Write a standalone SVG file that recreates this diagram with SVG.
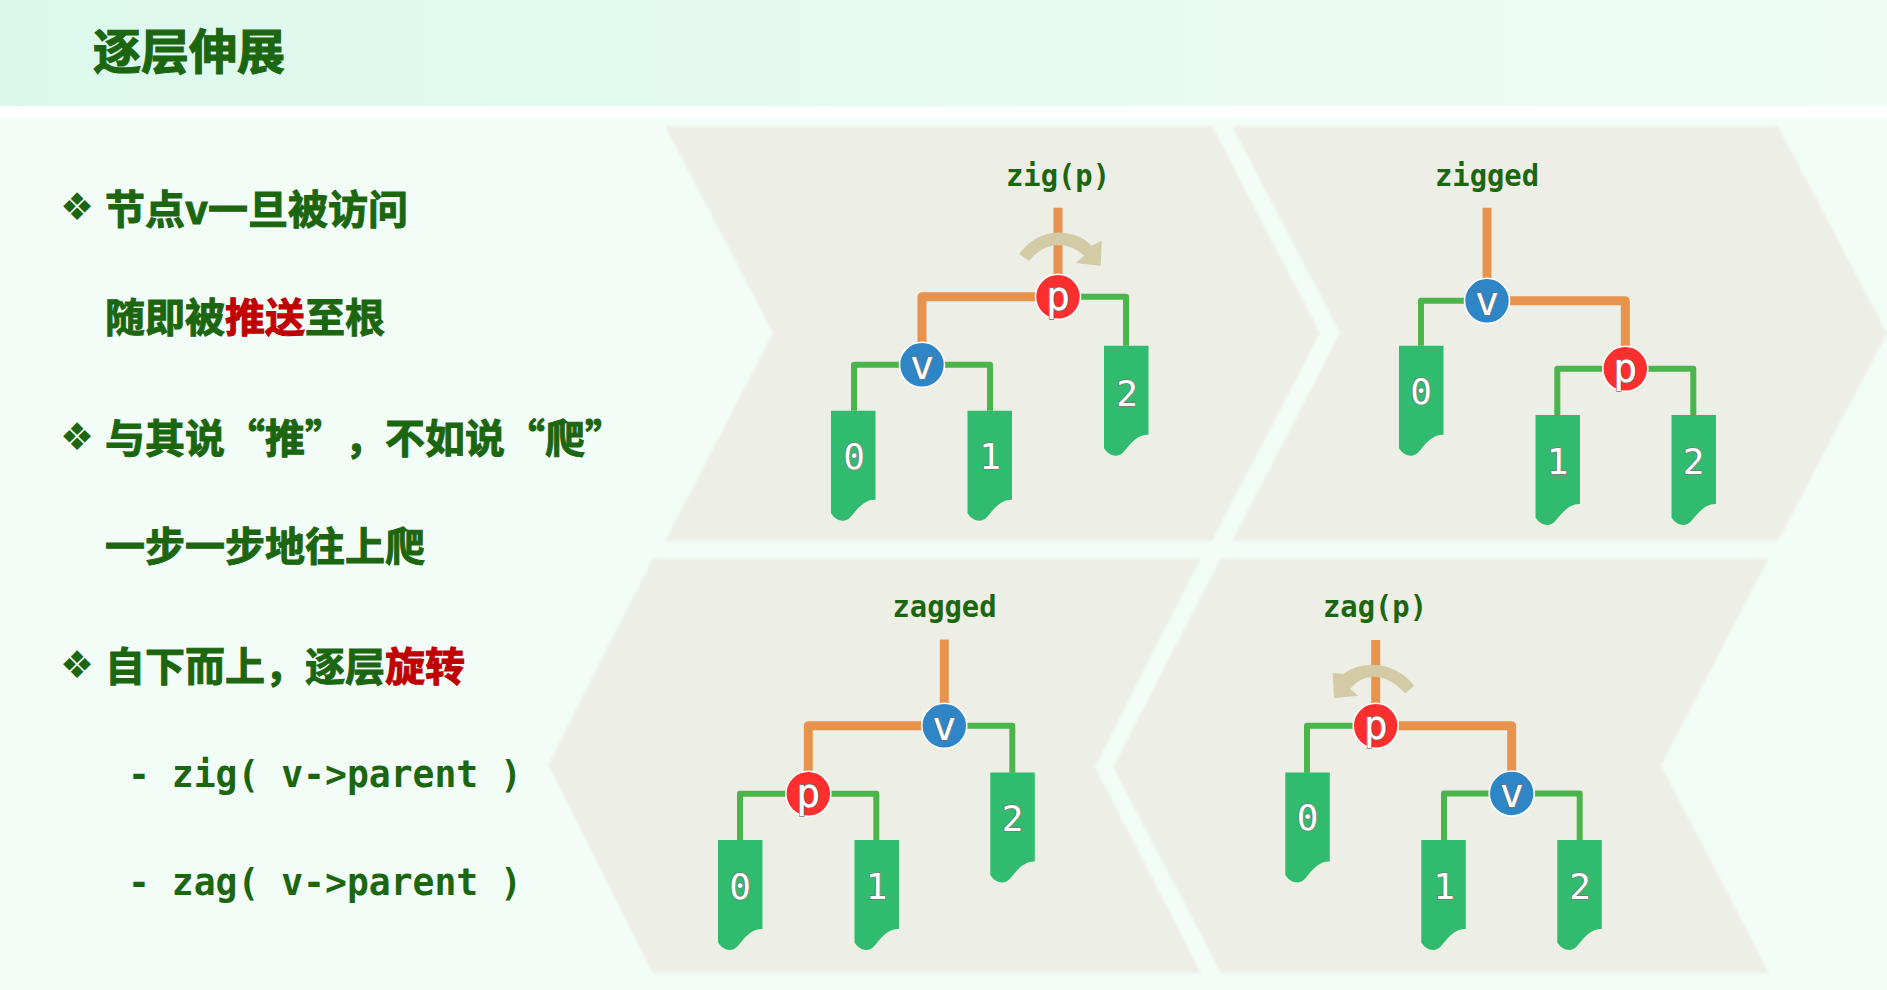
<svg xmlns="http://www.w3.org/2000/svg" width="1887" height="990" viewBox="0 0 1887 990">
<style>
.cjk{font-family:"Noto Sans CJK SC","Liberation Sans",sans-serif;font-weight:700;font-size:40px;fill:#1b660f;stroke:#1b660f;stroke-width:1px}
.ttl{font-size:48px;stroke-width:1.2px}
.red{fill:#c00000;stroke:#c00000}
.bul{font-family:"DejaVu Sans",sans-serif;font-size:38px;fill:#1b660f}
.code{font-family:"DejaVu Sans Mono",monospace;font-weight:700;font-size:38px;fill:#1b660f}
.lab{font-family:"DejaVu Sans Mono",monospace;font-weight:700;font-size:31px;fill:#1b660f;text-anchor:middle}
.or{fill:none;stroke:#e7934e;stroke-width:9;stroke-linejoin:round}
.gr{fill:none;stroke:#4ab548;stroke-width:6;stroke-linejoin:round}
.tan{fill:#d2cba6;stroke:none}
.leaf{fill:#30bb6e}
.c-v{fill:#2e86c6;stroke:#fff;stroke-width:1.6}
.c-p{fill:#fc2e2e;stroke:#fff;stroke-width:1.6}
.nt{font-family:"DejaVu Sans Mono",monospace;font-size:40px;fill:#fff;stroke:#777;stroke-width:1.4px;paint-order:stroke;text-anchor:middle}
.dt{font-family:"DejaVu Sans Mono",monospace;font-size:36px;fill:#fff;stroke:#777;stroke-width:1.4px;paint-order:stroke;text-anchor:middle}
</style>
<defs>
<linearGradient id="bandG" x1="0" x2="1" y1="0" y2="0"><stop offset="0" stop-color="#dcf8ec"/><stop offset=".6" stop-color="#e8fbf2"/><stop offset="1" stop-color="#effcf6"/></linearGradient>
<filter id="soft" x="-5%" y="-5%" width="110%" height="110%"><feGaussianBlur stdDeviation="1.6"/></filter>
<path id="leaf" d="M0,0H44.5V89C36,88.500 30,94 24,101C20,106 17,110 12,110C6,110 2.500,106 0,102.500Z"/>
</defs>
<rect width="1887" height="990" fill="#f3fdf8"/>
<rect width="1887" height="106" fill="url(#bandG)"/>
<rect y="106" width="1887" height="13" fill="#fdfffe"/>
<g id="panels" fill="#edeee6" filter="url(#soft)">
<polygon points="665,126 1212,126 1320,333 1212,541 665,541 773,333"/>
<polygon points="1232,126 1778,126 1887,333 1778,541 1232,541 1340,333"/>
<polygon points="653,558 1201,558 1095,767 1201,973 653,973 548,765"/>
<polygon points="1221,558 1769,558 1661,765 1769,973 1221,973 1113,767"/>
</g>
<g id="title"><text class="cjk ttl" x="93" y="68.500">逐层伸展</text></g>
<g id="bullets">
<text class="bul" x="60" y="220">❖</text>
<text class="cjk" x="105" y="224">节点v一旦被访问</text>
<text class="cjk" x="105" y="332">随即被<tspan class="red">推送</tspan>至根</text>
<text class="bul" x="60" y="450">❖</text>
<text class="cjk" x="105 145 185 225 265 305 345 385 425 465 505 545 585" y="453">与其说“推”，不如说“爬”</text>
<text class="cjk" x="105" y="560.500">一步一步地往上爬</text>
<text class="bul" x="60" y="678">❖</text>
<text class="cjk" x="105 145 185 225 265 305 345 385 425" y="680.500">自下而上，逐层<tspan class="red">旋转</tspan></text>
<text class="code" x="128" y="787" textLength="394" lengthAdjust="spacingAndGlyphs" xml:space="preserve">- zig( v-&gt;parent )</text>
<text class="code" x="128" y="895" textLength="394" lengthAdjust="spacingAndGlyphs" xml:space="preserve">- zag( v-&gt;parent )</text>
</g>
<g id="captions">
<text class="lab" x="1058" y="186" textLength="104" lengthAdjust="spacingAndGlyphs">zig(p)</text>
<text class="lab" x="1487" y="186" textLength="104" lengthAdjust="spacingAndGlyphs">zigged</text>
<text class="lab" x="944.500" y="617" textLength="104" lengthAdjust="spacingAndGlyphs">zagged</text>
<text class="lab" x="1375" y="617" textLength="104" lengthAdjust="spacingAndGlyphs">zag(p)</text>
</g>
<g id="connectors" transform="translate(0,.8)">
<path class="or" d="M1058,207V296M1058,296H922V364"/>
<path class="gr" d="M1058,296H1126V345M922,364H854V410M922,364H990V410"/>
<path class="or" d="M1487,207V300M1487,300H1625.300V368"/>
<path class="gr" d="M1487,300H1421V345M1625.300,368H1557.300V414.300M1625.300,368H1693.300V414.300"/>
<path class="or" d="M944.300,638.700V725M944.300,725H808.300V793"/>
<path class="gr" d="M944.300,725H1012.300V772M808.300,793H740V839.300M808.300,793H876.300V839.300"/>
<path class="or" d="M1375.700,639.200V725M1375.700,725H1511.700V792.700"/>
<path class="gr" d="M1375.700,725H1307V772M1511.700,792.700H1444V839.300M1511.700,792.700H1579.700V839.300"/>
</g>
<g id="rotations" transform="translate(0,.8)">
<path class="tan" d="M1019,253.300Q1035,232 1058.300,231.700Q1079,232 1091.700,245L1101.700,240L1100.700,265L1075.700,262.300L1084,255Q1073,244.500 1058.300,244.300Q1041,245 1029,260Z"/>
<path class="tan" d="M1414.300,685Q1397,664 1371.700,664Q1355,664.500 1343,673.300L1332.700,672.300L1334,697.300L1358.300,695L1350,688.300Q1360,676.500 1371.700,676Q1391,676 1405,692.700Z"/>
</g>
<g id="trees" transform="translate(0,.8)">
<g id="tree-zig">
<g id="zig-p"><circle class="c-p" cx="1058" cy="296" r="22.500"/><text class="nt" x="1058" y="309">p</text></g>
<g id="zig-v"><circle class="c-v" cx="922" cy="364" r="22.500"/><text class="nt" x="922" y="378">v</text></g>
<g id="zig-0"><use href="#leaf" class="leaf" x="831" y="410"/><text class="dt" x="854" y="468">0</text></g>
<g id="zig-1"><use href="#leaf" class="leaf" x="967.500" y="410"/><text class="dt" x="990" y="468">1</text></g>
<g id="zig-2"><use href="#leaf" class="leaf" x="1104" y="345"/><text class="dt" x="1127" y="405">2</text></g>
</g>
<g id="tree-zigged">
<g id="zigged-v"><circle class="c-v" cx="1487" cy="300" r="22.500"/><text class="nt" x="1487" y="314">v</text></g>
<g id="zigged-p"><circle class="c-p" cx="1625.300" cy="368" r="22.500"/><text class="nt" x="1625.300" y="381">p</text></g>
<g id="zigged-0"><use href="#leaf" class="leaf" x="1399" y="345"/><text class="dt" x="1421" y="403">0</text></g>
<g id="zigged-1"><use href="#leaf" class="leaf" x="1535.500" y="414.300"/><text class="dt" x="1557.500" y="473">1</text></g>
<g id="zigged-2"><use href="#leaf" class="leaf" x="1671.500" y="414.300"/><text class="dt" x="1693.500" y="473">2</text></g>
</g>
<g id="tree-zagged">
<g id="zagged-v"><circle class="c-v" cx="944.300" cy="725" r="22.500"/><text class="nt" x="944.300" y="739">v</text></g>
<g id="zagged-p"><circle class="c-p" cx="808.300" cy="793" r="22.500"/><text class="nt" x="808.300" y="806">p</text></g>
<g id="zagged-0"><use href="#leaf" class="leaf" x="718" y="839.300"/><text class="dt" x="740" y="898">0</text></g>
<g id="zagged-1"><use href="#leaf" class="leaf" x="854.500" y="839.300"/><text class="dt" x="876.500" y="898">1</text></g>
<g id="zagged-2"><use href="#leaf" class="leaf" x="990.300" y="771.700"/><text class="dt" x="1012.500" y="830">2</text></g>
</g>
<g id="tree-zag">
<g id="zag-p"><circle class="c-p" cx="1375.700" cy="725" r="22.500"/><text class="nt" x="1375.700" y="738.500">p</text></g>
<g id="zag-v"><circle class="c-v" cx="1511.700" cy="792.700" r="22.500"/><text class="nt" x="1511.700" y="806.500">v</text></g>
<g id="zag-0"><use href="#leaf" class="leaf" x="1285.300" y="771.700"/><text class="dt" x="1307.500" y="829">0</text></g>
<g id="zag-1"><use href="#leaf" class="leaf" x="1421.300" y="839.300"/><text class="dt" x="1444" y="898">1</text></g>
<g id="zag-2"><use href="#leaf" class="leaf" x="1557.300" y="839.300"/><text class="dt" x="1580" y="898">2</text></g>
</g>
</g>
</svg>
